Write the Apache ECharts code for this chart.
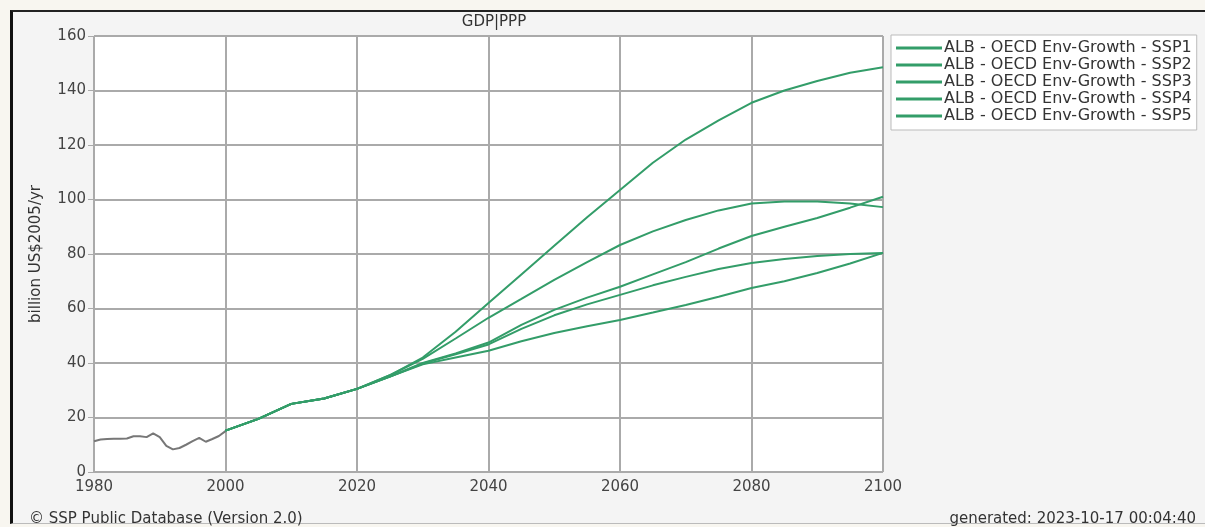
<!DOCTYPE html>
<html>
<head>
<meta charset="utf-8">
<script src="https://cdn.jsdelivr.net/npm/echarts@6/dist/echarts.min.js"></script>
<style>
  html, body { margin: 0; padding: 0; }
  body { width: 1205px; height: 527px; background: #f8f6f0; position: relative; overflow: hidden; }
  #frame { position: absolute; left: 10px; top: 10px; width: 1195px; height: 514px;
           background: #f4f4f4; border-left: 3px solid #111; border-top: 2px solid #222; border-bottom: 1px solid #bbb; box-sizing: border-box; }
  #chart { position: absolute; left: 0; top: 0; width: 1205px; height: 527px; }
</style>
</head>
<body>
<div id="frame"></div>
<div id="chart"></div>
<script>
// ---- data ----
const histYears = [1980,1981,1982,1983,1984,1985,1986,1987,1988,1989,1990,1991,1992,1993,1994,1995,1996,1997,1998,1999,2000];
const histValues = [11.3,11.9,12.1,12.2,12.2,12.3,13.1,13.1,12.8,14.2,12.8,9.6,8.3,8.8,10.0,11.3,12.5,11.1,12.1,13.2,15.0];

const projYears = [2000,2005,2010,2015,2020,2025,2030,2035,2040,2045,2050,2055,2060,2065,2070,2075,2080,2085,2090,2095,2100];
const ssp1 = [15.2,19.5,25,27,30.5,35.5,41.5,49,56.6,63.5,70.5,77,83.3,88.3,92.5,96,98.5,99.3,99.3,98.5,97.2];
const ssp2 = [15.2,19.5,25,27,30.5,35,40,43.5,47.5,54,59.5,64,68,72.5,77,82,86.6,90,93.2,97,101];
const ssp3 = [15.2,19.5,25,27,30.5,35,39.5,42,44.5,48,51,53.5,55.8,58.5,61.3,64.3,67.5,70,73,76.5,80.4];
const ssp4 = [15.2,19.5,25,27,30.5,35,39.8,43.2,46.8,52.5,57.5,61.5,65,68.5,71.6,74.5,76.7,78.2,79.3,80,80.4];
const ssp5 = [15.2,19.5,25,27,30.5,35.5,42,51.5,62,72.5,83,93.5,103.5,113.5,122,129,135.5,140,143.5,146.5,148.5];

const seriesNames = ['ALB - OECD Env-Growth - SSP1','ALB - OECD Env-Growth - SSP2','ALB - OECD Env-Growth - SSP3','ALB - OECD Env-Growth - SSP4','ALB - OECD Env-Growth - SSP5'];
const seriesValues = [ssp1, ssp2, ssp3, ssp4, ssp5];

const chart = echarts.init(document.getElementById('chart'), null, {renderer: 'canvas'});
const FONT = 'DejaVu Sans';
const GREEN = '#339d69';

const pair = (xs, ys) => xs.map((x, i) => [x, ys[i]]);

const series = [{
  name: 'history', type: 'line', data: pair(histYears, histValues), showSymbol: false,
  smooth: false, lineStyle: {color: '#777', width: 2}, itemStyle: {color: '#777'}, z: 3
}];
seriesNames.forEach((n, i) => {
  series.push({
    name: n, type: 'line', data: pair(projYears, seriesValues[i]), showSymbol: false,
    smooth: false,
    lineStyle: {color: GREEN, width: 2}, itemStyle: {color: GREEN}, z: 4
  });
});

chart.setOption({
  animation: false,
  backgroundColor: 'transparent',
  textStyle: {fontFamily: FONT},
  title: [
    {text: 'GDP|PPP', left: 489, top: 10, textAlign: 'center',
     textStyle: {fontFamily: FONT, fontSize: 15, fontWeight: 'normal', color: '#333'}},
    {text: '© SSP Public Database (Version 2.0)', left: 24, top: 507,
     textStyle: {fontFamily: FONT, fontSize: 15, fontWeight: 'normal', color: '#333'}},
    {text: 'generated: 2023-10-17 00:04:40', right: 4, top: 507,
     textStyle: {fontFamily: FONT, fontSize: 15, fontWeight: 'normal', color: '#333'}}
  ],
  legend: {
    data: seriesNames, orient: 'vertical', left: 891, top: 35,
    backgroundColor: '#fff', borderColor: '#bbb', borderWidth: 1,
    padding: [5, 5, 6, 5], itemGap: 1, itemWidth: 46, itemHeight: 3, icon: 'rect',
    textStyle: {fontFamily: FONT, fontSize: 16, color: '#333', padding: [0,0,0,-3]}
  },
  grid: {left: 94, right: 322, top: 36, bottom: 55, show: true, borderColor: '#aaa', borderWidth: 1, backgroundColor: '#fff'},
  xAxis: {
    type: 'value', min: 1980, max: 2100, interval: 20,
    axisLine: {show: false}, axisTick: {show: false},
    axisLabel: {fontFamily: FONT, fontSize: 15, color: '#444', margin: 8, formatter: v => String(v)},
    splitLine: {show: true, lineStyle: {color: '#aaa', width: 2}}
  },
  yAxis: {
    type: 'value', min: 0, max: 160, interval: 20,
    name: 'billion US$2005/yr', nameLocation: 'middle', nameGap: 50, nameRotate: 90,
    nameTextStyle: {fontFamily: FONT, fontSize: 15, color: '#333'},
    axisLine: {show: false}, axisTick: {show: true, length: 6, lineStyle: {color: '#aaa'}},
    axisLabel: {fontFamily: FONT, fontSize: 15, color: '#444', margin: 8, formatter: v => String(v)},
    splitLine: {show: true, lineStyle: {color: '#aaa', width: 2}}
  },
  series: series
});
</script>
</body>
</html>
